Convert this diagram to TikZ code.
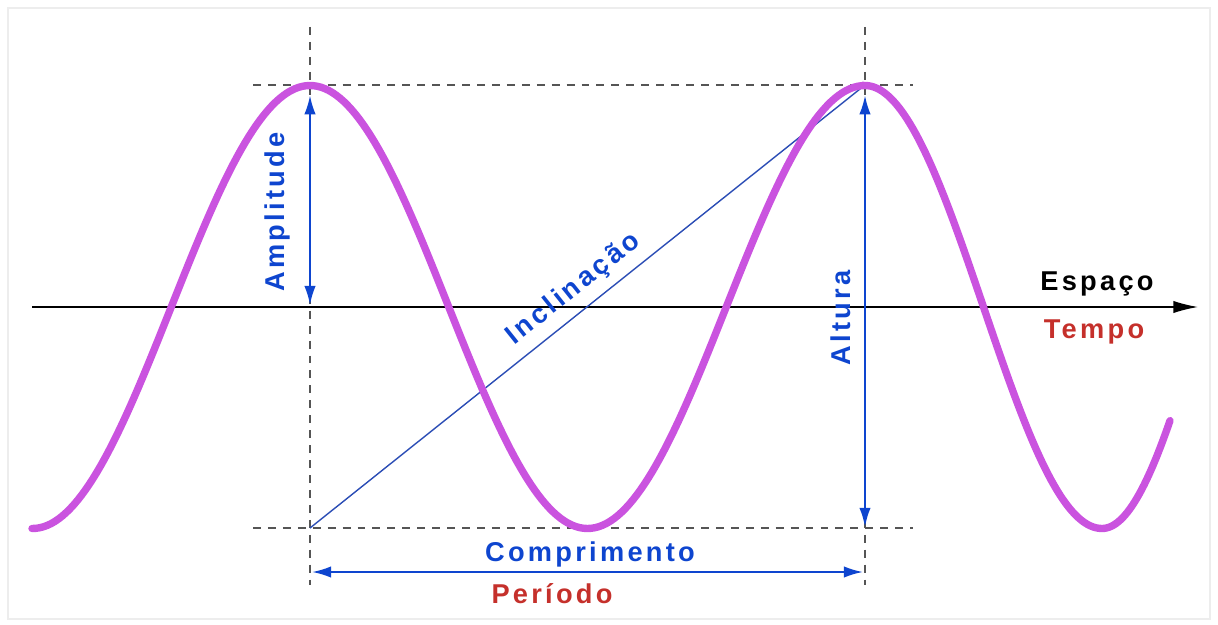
\documentclass[tikz,border=0pt]{standalone}
\usepackage{fontspec}
\newfontfamily\lblfont[LetterSpace=12]{Liberation Sans}
\usetikzlibrary{arrows.meta}
\definecolor{Wave}{HTML}{CA53DF}
\definecolor{Blue}{HTML}{0E45CF}
\definecolor{BlueL}{HTML}{2B4DB5}
\definecolor{Red}{HTML}{C5302B}
\definecolor{DGray}{HTML}{555555}

\begin{document}
\begin{tikzpicture}[x=0.02cm,y=-0.02cm,
    lbl/.style={font=\lblfont\bfseries\fontsize{15.5}{18}\selectfont,inner sep=0pt},
    guide/.style={DGray,line width=0.8pt,dash pattern=on 4.5pt off 4pt},
    dim/.style={Blue,line width=1.4pt,
      {Latex[length=11pt,width=6.5pt]}-{Latex[length=11pt,width=6.5pt]}},
    wave/.style={Wave,line width=4.2pt,line cap=round},
    >=Latex]
  \useasboundingbox (0,0) rectangle (1218,625);
  \draw[black!7,line width=0.6pt] (8,8) rectangle (1210,619);

  % key points
  \coordinate (pk1) at (310,85);
  \coordinate (pk2) at (865,85);
  \coordinate (tr1) at (310,528);
  \coordinate (tr2) at (865,528);
  \coordinate (ax1) at (310,307);
  \coordinate (xs) at (32,307);
  \coordinate (xe) at (1198,307);

  % guide lines
  \coordinate (g1t) at (310,27); \coordinate (g1b) at (310,585);
  \coordinate (g2t) at (865,27); \coordinate (g2b) at (865,585);
  \coordinate (h1l) at (253,85); \coordinate (h1r) at (913,85);
  \coordinate (h2l) at (253,528); \coordinate (h2r) at (913,528);
  \draw[guide] (g1t) -- (g1b);
  \draw[guide] (g2t) -- (g2b);
  \draw[guide] (h1l) -- (h1r);
  \draw[guide] (h2l) -- (h2r);

  % axis
  \draw[black,line width=0.85pt,-{Latex[length=14pt,width=7pt]}] (xs) -- (xe);
  \node[lbl,text=black] (esp) at (1097,284) {Espaço};
  \node[lbl,text=Red] (tmp) at (1094,332) {Tempo};

  % slope
  \draw[BlueL,line width=0.8pt] (tr1) -- node[lbl,text=Blue,sloped,above=5pt] (inc) {Inclinação} (pk2);

  % wave
  \draw[wave] plot[domain=32:865,samples=220] (\x,{307-221.5*cos((\x-310)/555*360)})
    -- plot[domain=865:1102,samples=80] (\x,{307-221.5*cos((\x-865)/237*180)})
    -- plot[domain=1102:1170,samples=30] (\x,{307+221.5*cos((\x-1102)/207*180)});

  % dimensions
  \draw[dim,shorten <=5.7pt,shorten >=1pt] (pk1) -- (ax1);
  \node[lbl,text=Blue,rotate=90] (amp) at (277,212) {Amplitude};
  \draw[dim,shorten <=5.7pt,shorten >=0.5pt] (pk2) -- (tr2);
  \node[lbl,text=Blue,rotate=90] (alt) at (841,318) {Altura};
  \coordinate (c1) at (310,572);
  \coordinate (c2) at (865,572);
  \draw[dim,shorten <=1pt,shorten >=1pt] (c1) -- (c2);
  \node[lbl,text=Blue] (comp) at (590,554) {Comprimento};
  \node[lbl,text=Red] (per) at (552,594) {Período};
\end{tikzpicture}
\end{document}
